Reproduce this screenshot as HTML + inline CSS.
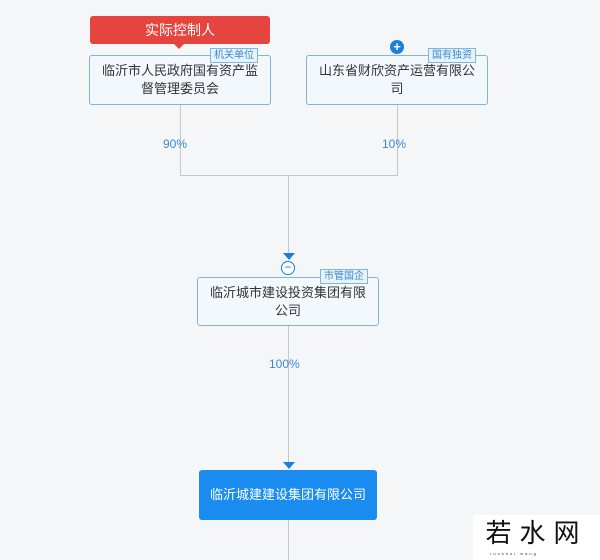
<!DOCTYPE html>
<html><head><meta charset="utf-8"><style>
body{margin:0;width:600px;height:560px;background:#f5f6f8;position:relative;overflow:hidden;font-family:"Liberation Sans","Noto Sans CJK SC",sans-serif}
.a{position:absolute}
.box{position:absolute;background:#f2f8fc;border:1px solid #7fb6e0;border-radius:3px;box-sizing:border-box;text-align:center;font-size:13px;color:#333;line-height:18px;display:flex;align-items:center;justify-content:center;padding:4px 10px}
.tag{position:absolute;background:#e7f2fb;border:1px solid #7fb6e0;color:#3a8ad0;font-size:10px;line-height:13px;padding:0 3px}
.l{position:absolute;background:#c4c8cc}
.pct{position:absolute;font-size:12px;color:#3a8ad0}
</style></head><body>
<div class="a" style="left:90px;top:16px;width:180px;height:28px;background:#e5443f;border-radius:3px;color:#fff;font-size:14px;text-align:center;line-height:28px">实际控制人</div>
<div class="a" style="left:174px;top:44px;width:0;height:0;border:5px solid transparent;border-top-color:#e5443f"></div>
<div class="box" style="left:89px;top:55px;width:182px;height:50px">临沂市人民政府国有资产监督管理委员会</div>
<div class="tag" style="left:210px;top:48px">机关单位</div>
<div class="box" style="left:306px;top:55px;width:182px;height:50px">山东省财欣资产运营有限公司</div>
<div class="tag" style="left:428px;top:48px">国有独资</div>
<div class="a" style="left:390px;top:40px;width:14px;height:14px;border-radius:50%;background:#1a7de0;color:#fff;font-size:13px;line-height:14px;text-align:center;font-weight:bold">+</div>
<div class="l" style="left:180px;top:105px;width:1px;height:71px"></div>
<div class="l" style="left:397px;top:105px;width:1px;height:71px"></div>
<div class="l" style="left:180px;top:175px;width:218px;height:1px"></div>
<div class="l" style="left:288px;top:175px;width:1px;height:80px"></div>
<div class="pct" style="left:163px;top:137px">90%</div>
<div class="pct" style="left:382px;top:137px">10%</div>
<div class="a" style="left:283px;top:253px;border:6px solid transparent;border-top:7px solid #1a7de0;border-bottom:0"></div>
<div class="a" style="left:281px;top:261px;width:12px;height:12px;border-radius:50%;border:1px solid #1a7de0;background:#fff;color:#1a7de0;font-size:12px;line-height:11px;text-align:center">−</div>
<div class="box" style="left:197px;top:277px;width:182px;height:49px">临沂城市建设投资集团有限公司</div>
<div class="tag" style="left:320px;top:269px">市管国企</div>
<div class="l" style="left:288px;top:326px;width:1px;height:138px"></div>
<div class="pct" style="left:269px;top:357px">100%</div>
<div class="a" style="left:283px;top:462px;border:6px solid transparent;border-top:7px solid #1a7de0;border-bottom:0"></div>
<div class="a" style="left:199px;top:470px;width:178px;height:50px;background:#1a8cf0;border-radius:3px;color:#fff;font-size:13px;line-height:50px;text-align:center">临沂城建建设集团有限公司</div>
<div class="l" style="left:288px;top:520px;width:1px;height:40px"></div>
<div class="a" style="left:473px;top:515px;width:127px;height:45px;background:#fff;color:#111;font-size:26px;line-height:36px;text-align:center;letter-spacing:8px">若水网</div>
<div class="a" style="left:490px;top:551px;width:100px;font-size:4px;color:#333;letter-spacing:2px">ruoshui wang</div>
</body></html>
